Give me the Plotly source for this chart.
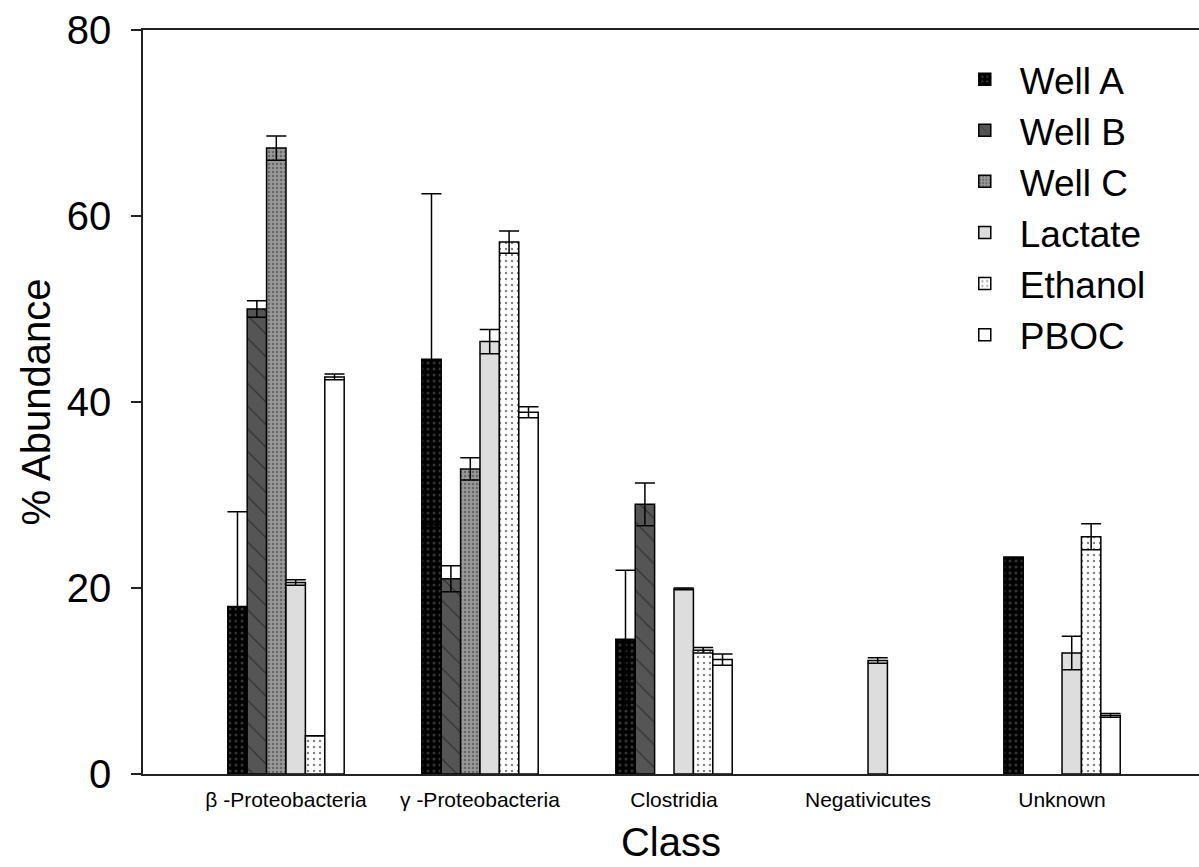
import plotly.graph_objects as go

categories = ["β -Proteobacteria", "γ -Proteobacteria", "Clostridia", "Negativicutes", "Unknown"]

well_a = [18.0, 44.6, 14.5, None, 23.3]
well_a_err = [10.2, 17.8, 7.4, None, None]
well_b = [50.0, 21.0, 29.0, None, None]
well_b_err = [0.9, 1.4, 2.3, None, None]
well_c = [67.3, 32.8, None, None, None]
well_c_err = [1.3, 1.2, None, None, None]
lactate = [20.6, 46.5, 19.9, 12.2, 13.0]
lactate_err = [0.3, 1.3, 0.1, 0.3, 1.8]
ethanol = [4.1, 57.2, 13.3, None, 25.5]
ethanol_err = [None, 1.2, 0.3, None, 1.4]
pboc = [42.7, 38.9, 12.3, None, 6.3]
pboc_err = [0.3, 0.6, 0.6, None, 0.2]

y_ticks = [0, 20, 40, 60, 80]

series = [
    ("Well A", well_a, well_a_err, "#000000", dict(shape=".", fgcolor="#6a6a6a", size=6, solidity=0.2, fillmode="overlay")),
    ("Well B", well_b, well_b_err, "#555555", dict(shape="\\", fgcolor="#111111", size=16, solidity=0.08, fillmode="overlay")),
    ("Well C", well_c, well_c_err, "#999999", dict(shape=".", fgcolor="#333333", size=4, solidity=0.3, fillmode="overlay")),
    ("Lactate", lactate, lactate_err, "#dddddd", None),
    ("Ethanol", ethanol, ethanol_err, "#ffffff", dict(shape=".", fgcolor="#000000", size=6, solidity=0.12, fillmode="overlay")),
    ("PBOC", pboc, pboc_err, "#ffffff", None),
]

fig = go.Figure()
for name, vals, errs, color, pat in series:
    marker = dict(color=color, line=dict(color="#000000", width=1.5))
    if pat:
        marker["pattern"] = pat
    fig.add_trace(go.Bar(
        name=name, x=categories, y=vals, marker=marker,
        error_y=dict(type="data", array=errs, symmetric=True, color="#000000",
                     thickness=1.5, width=10, visible=True),
    ))

fig.update_layout(
    width=1199, height=867,
    margin=dict(l=143, r=0, t=30, b=93),
    paper_bgcolor="white", plot_bgcolor="white",
    barmode="group", bargap=0.4, bargroupgap=0,
    font=dict(family="Liberation Sans, Arial, sans-serif", color="#000000"),
    legend=dict(x=0.764, y=0.975, xanchor="left", yanchor="top",
                font=dict(size=37), bgcolor="rgba(0,0,0,0)",
                itemwidth=60),
    showlegend=True,
)
fig.update_xaxes(
    range=[-0.737, 4.706],
    showline=True, linecolor="#222222", linewidth=1.5, mirror=True,
    ticks="", tickfont=dict(size=21), ticklabelstandoff=6,
    title=dict(text="Class", font=dict(size=40), standoff=18),
    showgrid=False, automargin=False,
)
fig.update_yaxes(
    range=[0, 80], tickvals=y_ticks,
    showline=True, linecolor="#222222", linewidth=1.5, mirror=False,
    ticks="outside", ticklen=10, tickwidth=1.5, tickcolor="#222222",
    tickfont=dict(size=40), ticklabelstandoff=12,
    title=dict(text="% Abundance", font=dict(size=40), standoff=4),
    showgrid=False, zeroline=False, automargin=False,
)

fig.write_html("out.html")
